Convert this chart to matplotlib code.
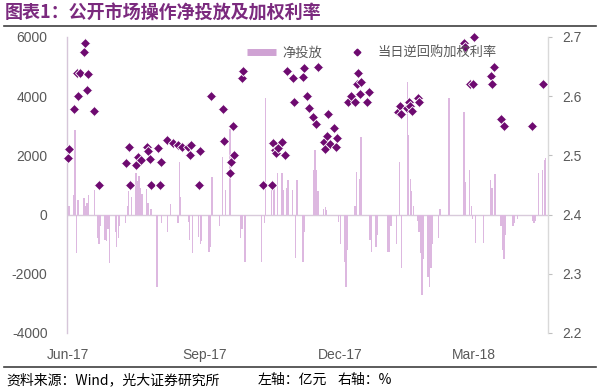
import matplotlib
matplotlib.use("Agg")
import matplotlib.pyplot as plt
import matplotlib.dates as mdates
from matplotlib.lines import Line2D
import pandas as pd

plt.rcParams['font.family'] = ['Liberation Sans', 'Noto Sans CJK SC', 'DejaVu Sans']

# ---------------- data ----------------
bar_dates = [
    "2017-06-01", "2017-06-02", "2017-06-05", "2017-06-06", "2017-06-07", "2017-06-08",
    "2017-06-12", "2017-06-13", "2017-06-14", "2017-06-15", "2017-06-19", "2017-06-21",
    "2017-06-22", "2017-06-23", "2017-06-26", "2017-06-27", "2017-06-28", "2017-06-29",
    "2017-07-03", "2017-07-04", "2017-07-05", "2017-07-06", "2017-07-10", "2017-07-11",
    "2017-07-12", "2017-07-14", "2017-07-17", "2017-07-18", "2017-07-19", "2017-07-20",
    "2017-07-21", "2017-07-24", "2017-07-25", "2017-07-27", "2017-07-31",
    "2017-08-03", "2017-08-07", "2017-08-09", "2017-08-14", "2017-08-15", "2017-08-16",
    "2017-08-21", "2017-08-22", "2017-08-24", "2017-08-28", "2017-08-29", "2017-08-30",
    "2017-09-04", "2017-09-05", "2017-09-06", "2017-09-11", "2017-09-13", "2017-09-15",
    "2017-09-18", "2017-09-25", "2017-09-26", "2017-09-28",
    "2017-10-09", "2017-10-11", "2017-10-12", "2017-10-16", "2017-10-17", "2017-10-18",
    "2017-10-20", "2017-10-23", "2017-10-24", "2017-10-26", "2017-10-27", "2017-10-30",
    "2017-11-01", "2017-11-02", "2017-11-06", "2017-11-07", "2017-11-13", "2017-11-14",
    "2017-11-15", "2017-11-16", "2017-11-20", "2017-11-21", "2017-11-22", "2017-11-30",
    "2017-12-01", "2017-12-04", "2017-12-05", "2017-12-06", "2017-12-11", "2017-12-12",
    "2017-12-14", "2017-12-15", "2017-12-21", "2017-12-22", "2017-12-25", "2017-12-26",
    "2018-01-02", "2018-01-03", "2018-01-04", "2018-01-08", "2018-01-10", "2018-01-11",
    "2018-01-15", "2018-01-16", "2018-01-17", "2018-01-18", "2018-01-19", "2018-01-22",
    "2018-01-23", "2018-01-24", "2018-01-25", "2018-01-26", "2018-01-29", "2018-01-30",
    "2018-01-31", "2018-02-01", "2018-02-05", "2018-02-06", "2018-02-12", "2018-02-22",
    "2018-02-23", "2018-02-26", "2018-02-27", "2018-02-28",
    "2018-03-02", "2018-03-07", "2018-03-12", "2018-03-13", "2018-03-15", "2018-03-19",
    "2018-03-20", "2018-03-21", "2018-03-22", "2018-03-27", "2018-03-28", "2018-03-30",
    "2018-04-09", "2018-04-10", "2018-04-11", "2018-04-13", "2018-04-16", "2018-04-17",
    "2018-04-18",
]
net_injection = [
    200, 300, 650, 2850, -1300, 500,
    550, 300, 400, 650, 830, -800,
    -1000, -400, -850, -900, -500, -1650,
    -600, -1100, -800, -400, -300, 300,
    800, 600, 1400, 1150, 1300, 900,
    700, 850, 400, 200, -2450,
    -300, -600, 350, -300, 1780, 600,
    -250, -850, -1300, -750, -1000, -900,
    -1250, -1100, 1270, -400, 1950, 830,
    2900, -800, -500, -1600,
    -1600, -300, 3940, 830, 1000, 900,
    1400, 1400, 830, 900, 1170, 830,
    -1470, 1170, -1600, -600, 1500, 2180,
    1500, 800, 200, 250, 150, -250,
    -1000, -1600, -2460, -1200, 300, 1450,
    1200, 2620, -850, -1250, -1100, -700,
    -1250, -1250, -400, -1000, 1770, -1800,
    4480, 2690, 1200, 800, 300, -200,
    -600, -1300, -2700, -1500, -2100, -2460,
    -1800, -1000, -800, 200, 3940, 3470,
    1100, 1500, 300, -150,
    -950, -950, 1170, 900, 1370, -400,
    -1200, -1500, -700, -400, -300, -150,
    -200, -300, -200, 1400, 1500, 1850,
    1900,
]

rate_dates = [
    "2017-06-01", "2017-06-02", "2017-06-05", "2017-06-07", "2017-06-08", "2017-06-09",
    "2017-06-12", "2017-06-13", "2017-06-14", "2017-06-15", "2017-06-19", "2017-06-22",
    "2017-07-10", "2017-07-12", "2017-07-13", "2017-07-17", "2017-07-18", "2017-07-20",
    "2017-07-24", "2017-07-25", "2017-07-26", "2017-07-27",
    "2017-08-01", "2017-08-02", "2017-08-03", "2017-08-07", "2017-08-11", "2017-08-14",
    "2017-08-17", "2017-08-21", "2017-08-22", "2017-08-23", "2017-08-28", "2017-08-29",
    "2017-09-05", "2017-09-13", "2017-09-14", "2017-09-18", "2017-09-19", "2017-09-20",
    "2017-09-21", "2017-09-26", "2017-09-27",
    "2017-10-10", "2017-10-16", "2017-10-17", "2017-10-18", "2017-10-19", "2017-10-20",
    "2017-10-23", "2017-10-25", "2017-10-26", "2017-10-30", "2017-10-31",
    "2017-11-06", "2017-11-07", "2017-11-09", "2017-11-10", "2017-11-13", "2017-11-15",
    "2017-11-16", "2017-11-20", "2017-11-21", "2017-11-22", "2017-11-23", "2017-11-24",
    "2017-11-27", "2017-11-28", "2017-11-29",
    "2017-12-06", "2017-12-08", "2017-12-11", "2017-12-12", "2017-12-13", "2017-12-14",
    "2017-12-15", "2017-12-19", "2017-12-20",
    "2018-01-09", "2018-01-10", "2018-01-11", "2018-01-15", "2018-01-16", "2018-01-17",
    "2018-01-18", "2018-01-22", "2018-01-23",
    "2018-02-22", "2018-02-23", "2018-02-26", "2018-02-28", "2018-03-01",
    "2018-03-12", "2018-03-13", "2018-03-14", "2018-03-19", "2018-03-21",
    "2018-04-09", "2018-04-16",
]
rate_values = [
    2.496, 2.511, 2.578, 2.640, 2.600, 2.640,
    2.675, 2.690, 2.610, 2.638, 2.575, 2.450,
    2.487, 2.514, 2.450, 2.484, 2.497, 2.492,
    2.514, 2.507, 2.494, 2.450,
    2.512, 2.450, 2.489, 2.526, 2.521, 2.517,
    2.514, 2.514, 2.500, 2.517, 2.450, 2.507,
    2.600, 2.578, 2.524, 2.470, 2.489, 2.550,
    2.500, 2.630, 2.643,
    2.450, 2.450, 2.521, 2.509, 2.504, 2.512,
    2.523, 2.500, 2.643, 2.630, 2.590,
    2.633, 2.648, 2.600, 2.580, 2.565, 2.553,
    2.650, 2.523, 2.510, 2.533, 2.570, 2.519,
    2.546, 2.515, 2.530,
    2.590, 2.600, 2.590, 2.620, 2.640, 2.604,
    2.624, 2.590, 2.607,
    2.573, 2.583, 2.570, 2.580, 2.590, 2.583,
    2.575, 2.597, 2.590,
    2.690, 2.683, 2.620, 2.620, 2.700,
    2.634, 2.620, 2.650, 2.562, 2.550,
    2.550, 2.620,
]

left_ticks = [-4000, -2000, 0, 2000, 4000, 6000]
right_ticks = [2.2, 2.3, 2.4, 2.5, 2.6, 2.7]
legend_labels = ["净投放", "当日逆回购加权利率"]
title_text = "图表1：公开市场操作净投放及加权利率"
source_parts = ["资料来源：Wind，光大证券研究所", "左轴：亿元", "右轴：%"]

# ---------------- styling ----------------
BAR_C = '#DDB8E0'
LEG_BAR_C = '#CFA2D3'
DOT_C = '#6E0A70'
TXT_C = '#595959'
TITLE_C = '#7B2A7E'

bx = pd.to_datetime(bar_dates)
rx = pd.to_datetime(rate_dates)

fig = plt.figure(figsize=(6, 3.89), dpi=100)
W, H = 600, 389
ax = fig.add_axes([67 / W, 1 - 333 / H, (548 - 67) / W, (333 - 37) / H])

ax.bar(bx, net_injection, width=0.9, color=BAR_C, linewidth=0, zorder=2)
ax.axhline(0, color='#D8CADB', lw=1.0, zorder=1)
ax.set_ylim(-4000, 6000)
ax.set_yticks(left_ticks)
ax.set_yticklabels([str(v) for v in left_ticks])
ax.set_xlim(pd.Timestamp("2017-06-01") - pd.Timedelta(hours=10),
            pd.Timestamp("2018-04-19") + pd.Timedelta(hours=12))
ax.xaxis.set_major_locator(mdates.MonthLocator(bymonth=[3, 6, 9, 12], bymonthday=1))
ax.xaxis.set_major_formatter(mdates.DateFormatter('%b-%y'))
ax.tick_params(axis='y', length=0, pad=14, labelsize=10, labelcolor=TXT_C)
ax.tick_params(axis='x', length=0, pad=11, labelsize=10, labelcolor=TXT_C)
for s in ['top', 'right', 'bottom']:
    ax.spines[s].set_visible(False)
ax.spines['left'].set_color('#D6C6D9')
ax.spines['left'].set_linewidth(1.0)

ax2 = ax.twinx()
ax2.plot(rx, rate_values, linestyle='none', marker='D', markersize=4.7,
         markerfacecolor=DOT_C, markeredgecolor='white', markeredgewidth=0.6,
         zorder=3, clip_on=False)
ax2.set_ylim(2.2, 2.7)
ax2.set_yticks(right_ticks)
ax2.set_yticklabels([f"{v:.1f}" for v in right_ticks])
ax2.tick_params(axis='y', length=3, width=0.8, color='#BFBFBF', pad=7,
                labelsize=10, labelcolor=TXT_C)
for s in ['top', 'left', 'bottom']:
    ax2.spines[s].set_visible(False)
ax2.spines['right'].set_color('#D9D9D9')
ax2.spines['right'].set_linewidth(1.0)

handles = [Line2D([], [], color=LEG_BAR_C, lw=5, solid_capstyle='butt'),
           Line2D([], [], linestyle='none', marker='D', markersize=3.4,
                  markerfacecolor=DOT_C, markeredgecolor=DOT_C)]
leg = ax2.legend(handles, legend_labels, loc='center left',
                 bbox_to_anchor=((247 - 67) / 481, (333 - 53) / 296),
                 ncol=2, frameon=False, handlelength=2.2, handletextpad=0.45,
                 columnspacing=1.6, borderpad=0, borderaxespad=0,
                 prop={'family': ['Noto Sans CJK SC'], 'size': 9.5})
for t in leg.get_texts():
    t.set_color(TXT_C)

# title, rules, source
fig.text(5 / W, 1 - 13 / H, title_text, ha='left', va='center', fontsize=13,
         fontweight='bold', color=TITLE_C,
         family=['Noto Sans CJK SC', 'DejaVu Sans'])
fig.add_artist(Line2D([4 / W, 596 / W], [1 - 26 / H] * 2, color='#3F3F3F', lw=1.2))
fig.add_artist(Line2D([4 / W, 596 / W], [1 - 367 / H] * 2, color='#3F3F3F', lw=1.2))
for xpx, part in zip([6, 258, 338], source_parts):
    fig.text(xpx / W, 1 - 380 / H, part, ha='left', va='center', fontsize=10,
             color='black', family=['Noto Sans CJK SC', 'DejaVu Sans'])

fig.savefig("out.png", dpi=100)
